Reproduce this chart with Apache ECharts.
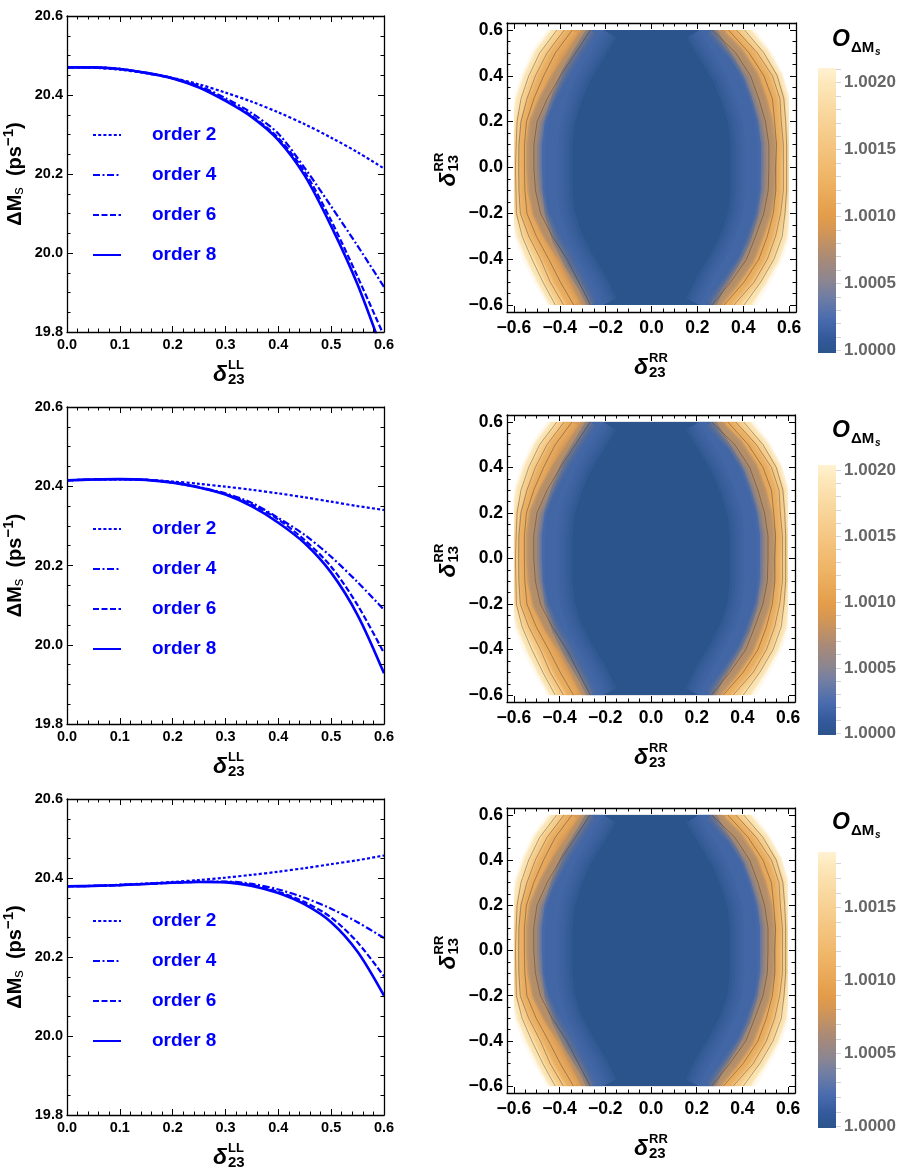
<!DOCTYPE html>
<html><head><meta charset="utf-8">
<script src="https://cdn.jsdelivr.net/npm/echarts@6/dist/echarts.min.js"></script>
<style>html,body{margin:0;padding:0;background:#fff}#c{width:908px;height:1174px}</style>
</head><body><div id="c"></div>
<script>
// ---------------- DATA ----------------
const deltaLL = [0,0.05,0.1,0.15,0.2,0.25,0.3,0.35,0.4,0.45,0.5,0.55,0.6];
const seriesNames = ['order 2','order 4','order 6','order 8'];
// top panel
const top_o2 = [20.470,20.469,20.464,20.455,20.443,20.427,20.406,20.383,20.356,20.326,20.292,20.255,20.214];
const top_o4 = [20.470,20.470,20.466,20.456,20.443,20.423,20.392,20.354,20.302,20.215,20.118,20.018,19.914];
const top_o6 = [20.470,20.470,20.466,20.456,20.442,20.420,20.387,20.347,20.291,20.205,20.082,19.940,19.790];
const top_o8 = [20.470,20.470,20.466,20.456,20.442,20.419,20.385,20.344,20.286,20.196,20.068,19.920,19.740];
// middle panel
const mid_o2 = [20.415,20.417,20.417,20.416,20.412,20.406,20.399,20.391,20.382,20.372,20.361,20.350,20.340];
const mid_o4 = [20.415,20.417,20.418,20.416,20.410,20.398,20.382,20.358,20.320,20.277,20.222,20.158,20.088];
const mid_o6 = [20.415,20.417,20.418,20.416,20.409,20.397,20.380,20.354,20.316,20.264,20.197,20.100,19.979];
const mid_o8 = [20.415,20.417,20.418,20.416,20.409,20.397,20.379,20.349,20.308,20.256,20.182,20.075,19.928];
// bottom panel
const bot_o2 = [20.379,20.380,20.383,20.386,20.390,20.395,20.401,20.408,20.416,20.425,20.435,20.445,20.457];
const bot_o4 = [20.379,20.380,20.382,20.385,20.388,20.391,20.391,20.385,20.371,20.350,20.322,20.288,20.248];
const bot_o6 = [20.379,20.380,20.382,20.385,20.388,20.390,20.390,20.382,20.365,20.339,20.300,20.237,20.151];
const bot_o8 = [20.379,20.380,20.382,20.385,20.388,20.390,20.389,20.380,20.362,20.333,20.288,20.213,20.102];

const heatTicks = [-0.6,-0.4,-0.2,0,0.2,0.4,0.6];

// contour plot (delta23RR, delta13RR): contour crossings read per row (left / right x)
const contourRows = [0.6,0.5,0.4,0.3,0.2,0.1,0,-0.1,-0.2,-0.3,-0.4,-0.5,-0.6];
const edgeLeft  = [-0.441,-0.513,-0.557,-0.589,-0.600,-0.600,-0.600,-0.600,-0.600,-0.586,-0.550,-0.499,-0.441];
const edgeRight = [0.439,0.512,0.563,0.592,0.600,0.600,0.600,0.600,0.600,0.592,0.560,0.505,0.447];
const c1Left  = [-0.412,-0.487,-0.535,-0.569,-0.586,-0.590,-0.593,-0.591,-0.589,-0.564,-0.521,-0.473,-0.419];
const c1Right = [0.405,0.490,0.548,0.577,0.585,0.589,0.589,0.589,0.582,0.570,0.534,0.476,0.403];
const c2Left  = [-0.380,-0.455,-0.506,-0.543,-0.569,-0.578,-0.579,-0.578,-0.572,-0.535,-0.484,-0.441,-0.383];
const c2Right = [0.370,0.461,0.527,0.560,0.566,0.575,0.575,0.575,0.563,0.541,0.505,0.447,0.359];
const c3Left  = [-0.345,-0.419,-0.470,-0.513,-0.545,-0.554,-0.554,-0.552,-0.543,-0.502,-0.448,-0.397,-0.339];
const c3Right = [0.335,0.425,0.490,0.527,0.537,0.545,0.541,0.542,0.531,0.505,0.468,0.403,0.316];
const c4Left  = [-0.266,-0.332,-0.397,-0.455,-0.499,-0.513,-0.513,-0.506,-0.484,-0.433,-0.368,-0.317,-0.266];
const c4Right = [0.265,0.367,0.432,0.468,0.497,0.512,0.512,0.509,0.490,0.454,0.415,0.345,0.265];
const coreLeft  = [-0.21,-0.27,-0.33,-0.37,-0.40,-0.41,-0.41,-0.41,-0.40,-0.37,-0.32,-0.26,-0.21];
const coreRight = [0.21,0.27,0.33,0.37,0.40,0.41,0.41,0.41,0.40,0.37,0.32,0.26,0.21];

const colorbarMin = [0.99998,0.99999,0.99999];
const colorbarMax = [1.00211,1.00204,1.00188];
const colorbarTicks = [[1.0000,1.0005,1.0010,1.0015,1.0020],[1.0000,1.0005,1.0010,1.0015,1.0020],[1.0000,1.0005,1.0010,1.0015]];

// ---------------- LAYOUT / STYLE ----------------
const FONT = 'Liberation Sans, Arial, Helvetica, sans-serif';
const LINE_GRIDS = [{left:67,top:16,width:317,height:316},{left:67,top:407,width:317,height:317},{left:67,top:799,width:317,height:316}];
const HEAT_GRIDS = [{left:507,top:23,width:289,height:289},{left:507,top:415,width:288,height:287},{left:507,top:808,width:288,height:285}];
const BAR_GRIDS  = [{left:818,top:68,width:18,height:285},{left:818,top:465,width:18,height:270},{left:818,top:852,width:18,height:276}];
const LEGEND_TOPS = [125,519,911];
const LINE_STYLES = [
  {type:[3,2.2], width:2.2},
  {type:[7,2.5,2,2.5], width:2.2},
  {type:[6,2.5], width:2.2},
  {type:'solid', width:2.6}
];
const panelData = [[top_o2,top_o4,top_o6,top_o8],[mid_o2,mid_o4,mid_o6,mid_o8],[bot_o2,bot_o4,bot_o6,bot_o8]];
const HEAT_LEVELS = [
  {L:edgeLeft, R:edgeRight, fill:'#fde9b9', halo:1.2, line:false},
  {L:c1Left, R:c1Right, fill:'#f8d290', halo:2.2, line:true},
  {L:c2Left, R:c2Right, fill:'#f0b565', halo:2.2, line:true},
  {L:c3Left, R:c3Right, fill:'#d89a56', halo:2.6, line:true},
  {L:c4Left, R:c4Right, fill:'#4c6db0', halo:3.2, line:true},
  {L:coreLeft, R:coreRight, fill:'#2b548c', halo:6, line:false}
];
const GRAD = [
  [0,'#2b548c'],[0.05,'#33599a'],[0.12,'#4a6caf'],[0.2,'#717ea3'],[0.25,'#8a8592'],
  [0.33,'#a88a78'],[0.43,'#d49655'],[0.48,'#e39c4a'],[0.6,'#eeb262'],[0.72,'#f4c47f'],
  [0.85,'#f9d89f'],[0.95,'#fde8bb'],[1,'#fff2d2']
];
const HEAT_MIN = -0.63, HEAT_MAX = 0.63, HEAT_DOMAIN = 0.6;

function rgba(hex, a){
  const n = parseInt(hex.slice(1), 16);
  return 'rgba(' + ((n>>16)&255) + ',' + ((n>>8)&255) + ',' + (n&255) + ',' + a + ')';
}
const heatMinor = [];
for (let k=-12;k<=12;k++){ if (k%4!==0) heatMinor.push(k*0.05); }
const heatFmt = v => (v < -1e-9 ? '\u2212' : '') + Math.abs(v).toFixed(1);

const grids = [...LINE_GRIDS, ...HEAT_GRIDS, ...BAR_GRIDS].map(g => Object.assign({outerBoundsMode:'none', containLabel:false}, g));
const xAxes = [], yAxes = [], series = [], legends = [], graphics = [];
const frameLine = {show:true, onZero:false, lineStyle:{color:'#000', width:1.3}};
const noLine = {show:false, onZero:false};
const labelStyle = {color:'#000', fontWeight:'bold', fontSize:14.5, fontFamily:FONT};
const heatLabelStyle = {color:'#000', fontWeight:'bold', fontSize:17.5, fontFamily:FONT};

// ---------- line panels ----------
LINE_GRIDS.forEach((g, i) => {
  const gi = i;
  const xi = xAxes.length;
  const tick = {inside:true, length:6, lineStyle:{color:'#000', width:1}};
  xAxes.push({gridIndex:gi, type:'value', min:0, max:0.6, interval:0.1, position:'bottom', z:6,
    axisLine:frameLine, splitLine:{show:false}, axisTick:tick,
    minorTick:{show:true, splitNumber:5, length:3.5, lineStyle:{color:'#000', width:1}},
    axisLabel:Object.assign({margin:5, formatter:v=>v.toFixed(1)}, labelStyle)});
  xAxes.push({gridIndex:gi, type:'value', min:0, max:0.6, interval:0.1, position:'top', z:6,
    axisLine:frameLine, splitLine:{show:false}, axisTick:tick,
    minorTick:{show:true, splitNumber:5, length:3.5, lineStyle:{color:'#000', width:1}},
    axisLabel:{show:false}});
  const yi = yAxes.length;
  yAxes.push({gridIndex:gi, type:'value', min:19.8, max:20.6, interval:0.2, position:'left', z:6,
    axisLine:frameLine, splitLine:{show:false}, axisTick:tick,
    minorTick:{show:true, splitNumber:4, length:3.5, lineStyle:{color:'#000', width:1}},
    axisLabel:Object.assign({margin:4, formatter:v=>v.toFixed(1)}, labelStyle),
    name:'{a|\u0394M}{s|s}{a|  (ps}{p|\u22121}{a|)}', nameLocation:'middle', nameRotate:90, nameGap:37,
    nameTextStyle:{rich:{
      a:{fontSize:20, fontWeight:'bold', fontFamily:FONT, color:'#000', lineHeight:30, verticalAlign:'middle'},
      s:{fontSize:15, fontFamily:FONT, color:'#000', lineHeight:30, verticalAlign:'bottom', padding:[0,0,4,0]},
      p:{fontSize:15, fontWeight:'bold', fontFamily:FONT, color:'#000', lineHeight:30, verticalAlign:'top', padding:[1,0,0,0]}
    }}});
  yAxes.push({gridIndex:gi, type:'value', min:19.8, max:20.6, interval:0.2, position:'right', z:6,
    axisLine:frameLine, splitLine:{show:false}, axisTick:tick,
    minorTick:{show:true, splitNumber:4, length:3.5, lineStyle:{color:'#000', width:1}},
    axisLabel:{show:false}});
  panelData[i].forEach((arr, s) => {
    series.push({type:'line', name:seriesNames[s], xAxisIndex:xi, yAxisIndex:yi,
      data:deltaLL.map((x,k)=>[x, arr[k]]), smooth:0.3, symbol:'none', showSymbol:false, clip:true, z:3,
      lineStyle:{color:'#0000ff', width:LINE_STYLES[s].width, type:LINE_STYLES[s].type},
      itemStyle:{color:'#0000ff'}, emphasis:{disabled:true}});
  });
  legends.push({orient:'vertical', left:92, top:LEGEND_TOPS[i], padding:0, itemWidth:28, itemHeight:14, itemGap:20,
    selectedMode:false, data:seriesNames.slice(), itemStyle:{opacity:0, color:'rgba(0,0,0,0)', borderWidth:0},
    textStyle:{color:'#0000ff', fontWeight:'bold', fontSize:19, fontFamily:FONT, lineHeight:20, padding:[0,0,0,26]}});
});

// ---------- contour panels ----------
function sidePoints(arr, api){ return contourRows.map((y, r) => api.coord([arr[r], y])); }
function softEdge(children, left, right, color, halo){
  [5, 4, 3, 2, 1].forEach(m => {
    const st = {stroke:rgba(color, 0.2), lineWidth:halo*m, fill:null, lineJoin:'round'};
    children.push({type:'polyline', shape:{points:left}, style:st});
    children.push({type:'polyline', shape:{points:right}, style:st});
  });
}
HEAT_GRIDS.forEach((g, i) => {
  const gi = 3 + i;
  const xi = xAxes.length;
  const mkAx = (pos, major, labels) => ({gridIndex:gi, type:'value', min:HEAT_MIN, max:HEAT_MAX, position:pos, z:6,
    axisLine: major ? frameLine : noLine, splitLine:{show:false},
    axisTick:{inside:true, length: major ? 6 : 3.5, customValues: major ? heatTicks : heatMinor, lineStyle:{color:'#000', width:1}},
    axisLabel: labels ? Object.assign({margin:7, customValues:heatTicks, formatter:heatFmt}, heatLabelStyle) : {show:false}});
  xAxes.push(mkAx('bottom', true, true), mkAx('bottom', false, false), mkAx('top', true, false), mkAx('top', false, false));
  const yi = yAxes.length;
  yAxes.push(mkAx('left', true, true), mkAx('left', false, false), mkAx('right', true, false), mkAx('right', false, false));
  yAxes[yi].axisLabel.margin = 4;
  // filled contour bands; each boundary is blurred on both sides with translucent strokes
  series.push({type:'custom', xAxisIndex:xi, yAxisIndex:yi, clip:true, z:2, silent:true,
    data: HEAT_LEVELS.map((_, k) => [k]),
    renderItem:(params, api) => {
      const k = api.value(0);
      const lv = HEAT_LEVELS[k];
      const outer = k > 0 ? HEAT_LEVELS[k-1].fill : '#ffffff';
      const left = sidePoints(lv.L, api), right = sidePoints(lv.R, api);
      const children = [];
      softEdge(children, left, right, lv.fill, lv.halo);
      children.push({type:'polygon', shape:{points:left.concat(right.slice().reverse())}, style:{fill:lv.fill}});
      softEdge(children, left, right, outer, lv.halo);
      return {type:'group', children};
    }});
  // contour lines
  series.push({type:'custom', xAxisIndex:xi, yAxisIndex:yi, clip:true, z:3, silent:true,
    data: HEAT_LEVELS.map((lv, k) => [k]).filter(d => HEAT_LEVELS[d[0]].line),
    renderItem:(params, api) => {
      const lv = HEAT_LEVELS[api.value(0)];
      const st = {stroke:'rgba(55,45,45,0.5)', lineWidth:0.8, fill:null};
      return {type:'group', children:[
        {type:'polyline', shape:{points:sidePoints(lv.L, api)}, style:st},
        {type:'polyline', shape:{points:sidePoints(lv.R, api)}, style:st}]};
    }});
  // white margins outside the sampled domain
  series.push({type:'custom', xAxisIndex:xi, yAxisIndex:yi, clip:true, z:4, silent:true, data:[[0]],
    renderItem:(params, api) => {
      const a = api.coord([HEAT_MIN, HEAT_MAX]), b = api.coord([HEAT_MAX, HEAT_MIN]);
      const c = api.coord([-HEAT_DOMAIN, HEAT_DOMAIN]), d = api.coord([HEAT_DOMAIN, -HEAT_DOMAIN]);
      const st = {fill:'#fff'};
      return {type:'group', children:[
        {type:'rect', shape:{x:a[0], y:a[1], width:b[0]-a[0], height:c[1]-a[1]}, style:st},
        {type:'rect', shape:{x:a[0], y:d[1], width:b[0]-a[0], height:b[1]-d[1]}, style:st},
        {type:'rect', shape:{x:a[0], y:a[1], width:c[0]-a[0], height:b[1]-a[1]}, style:st},
        {type:'rect', shape:{x:d[0], y:a[1], width:b[0]-d[0], height:b[1]-a[1]}, style:st}]};
    }});
});

// ---------- colour bars ----------
BAR_GRIDS.forEach((g, i) => {
  const gi = 6 + i;
  const xi = xAxes.length;
  xAxes.push({gridIndex:gi, type:'value', min:0, max:1, show:false});
  const yi = yAxes.length;
  const minorTicks = [];
  for (let k=0; 1+k*0.0001 <= colorbarMax[i]+1e-9; k++) minorTicks.push(Math.round((1+k*0.0001)*1e5)/1e5);
  yAxes.push({gridIndex:gi, type:'value', min:colorbarMin[i], max:colorbarMax[i], position:'right', z:6,
    axisLine:noLine, splitLine:{show:false},
    axisTick:{show:true, inside:false, length:5, customValues:minorTicks, lineStyle:{color:'#d4d4d4', width:1}},
    axisLabel:{customValues:colorbarTicks[i], formatter:v=>v.toFixed(4), color:'#666', fontWeight:'bold', fontSize:17, fontFamily:FONT, margin:8}});
  series.push({type:'custom', xAxisIndex:xi, yAxisIndex:yi, silent:true, z:2, data:[[0]],
    renderItem:(params, api) => {
      const p0 = api.coord([0, colorbarMin[i]]), p1 = api.coord([1, colorbarMax[i]]);
      return {type:'rect', shape:{x:p0[0], y:p1[1], width:p1[0]-p0[0], height:p0[1]-p1[1]},
        style:{fill:{type:'linear', x:0, y:1, x2:0, y2:0, colorStops:GRAD.map(s=>({offset:s[0], color:s[1]}))}}};
    }});
});

// ---------- stacked super/subscript labels ----------
function deltaLabel(cx, cy, sup, sub, rot){
  return {type:'group', x:cx, y:cy, rotation:rot, silent:true, children:[
    {type:'text', style:{text:'\u03b4', x:0, y:0, font:'italic bold 23px '+FONT, fill:'#000', align:'center', verticalAlign:'middle', textAlign:'center', textVerticalAlign:'middle'}},
    {type:'text', style:{text:sup, x:8, y:-10, font:'bold 13px '+FONT, fill:'#000', align:'left', verticalAlign:'middle', textAlign:'left', textVerticalAlign:'middle'}},
    {type:'text', style:{text:sub, x:8, y:5, font:'bold 15px '+FONT, fill:'#000', align:'left', verticalAlign:'middle', textAlign:'left', textVerticalAlign:'middle'}}
  ]};
}
LINE_GRIDS.forEach(g => graphics.push(deltaLabel(220, g.top + g.height + 43, 'LL', '23', 0)));
HEAT_GRIDS.forEach(g => {
  graphics.push(deltaLabel(g.left + 134, g.top + g.height + 56, 'RR', '23', 0));
  graphics.push(deltaLabel(g.left - 58, g.top + g.height/2 + 12, 'RR', '13', Math.PI/2));
});
const TITLE_Y = [40, 431, 823];
TITLE_Y.forEach(y => {
  graphics.push({type:'text', silent:true, style:{text:'O', x:832, y:y, font:'italic bold 23px '+FONT, fill:'#000', verticalAlign:'middle', textVerticalAlign:'middle'}});
  graphics.push({type:'text', silent:true, style:{text:'\u0394M', x:851, y:y+8, font:'bold 15px '+FONT, fill:'#000', verticalAlign:'middle', textVerticalAlign:'middle'}});
  graphics.push({type:'text', silent:true, style:{text:'s', x:875, y:y+12, font:'italic bold 10px '+FONT, fill:'#000', verticalAlign:'middle', textVerticalAlign:'middle'}});
});

const chart = echarts.init(document.getElementById('c'), null, {renderer:'canvas'});
chart.setOption({
  backgroundColor:'#fff', animation:false,
  grid:grids, xAxis:xAxes, yAxis:yAxes, series:series, legend:legends, graphic:graphics
});
</script></body></html>
